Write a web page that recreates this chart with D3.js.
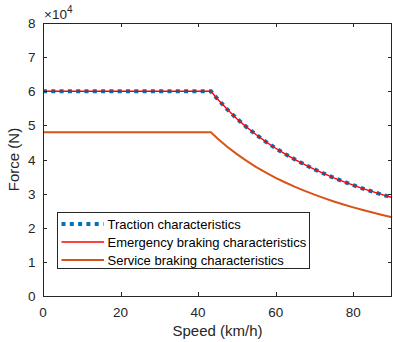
<!DOCTYPE html>
<html>
<head>
<meta charset="utf-8">
<script src="https://cdn.jsdelivr.net/npm/d3@7"></script>
<style>
  html, body { margin: 0; padding: 0; background: #fff; }
  svg { display: block; font-family: "Liberation Sans", Arial, sans-serif; }
</style>
</head>
<body>
<svg id="chart" width="393" height="342"></svg>
<script>
// Speed (km/h) sample points
const speeds = [0, 43.3, 45, 47.5, 50, 52.5, 55, 57.5, 60, 62.5, 65, 67.5, 70, 72.5, 75, 77.5, 80, 82.5, 85, 87.5, 90];
// Traction force (N)
const traction = [60000, 60000, 57733, 54695, 51960, 49486, 47236, 45183, 43300, 41568, 39969, 38489, 37114, 35834, 34640, 33523, 32475, 31491, 30565, 29691, 28867];
// Emergency braking force (N)
const emergency = [60000, 60000, 57733, 54695, 51960, 49486, 47236, 45183, 43300, 41568, 39969, 38489, 37114, 35834, 34640, 33523, 32475, 31491, 30565, 29691, 28867];
// Service braking force (N)
const service = [48000, 48000, 46187, 43756, 41568, 39589, 37789, 36146, 34640, 33254, 31975, 30791, 29691, 28667, 27712, 26818, 25980, 25193, 24452, 23753, 23093];

const xTicks = [0, 20, 40, 60, 80];
const yTicks = [0, 1, 2, 3, 4, 5, 6, 7, 8];
const seriesNames = ["Traction characteristics", "Emergency braking characteristics", "Service braking characteristics"];

const svg = d3.select("#chart");
const m = { left: 43, right: 1, top: 23, bottom: 46 };
const W = 393, H = 342;

const x = d3.scaleLinear().domain([0, 90]).range([m.left, W - m.right]);
const y = d3.scaleLinear().domain([0, 80000]).range([H - m.bottom, m.top]);

const axisColor = "#262626";
const tickLen = 4;
const tickFont = 13.5;
const titleFont = 15;

const g = svg.append("g");
const xL = x(0), xR = x(90), yT = y(80000), yB = y(0);

// ticks (inward, on all four sides) and tick labels
xTicks.forEach(t => {
  const px = Math.round(x(t)) + 0.5;
  g.append("line").attr("x1", px).attr("x2", px).attr("y1", yB).attr("y2", yB - tickLen).attr("stroke", axisColor);
  g.append("line").attr("x1", px).attr("x2", px).attr("y1", yT).attr("y2", yT + tickLen).attr("stroke", axisColor);
  g.append("text").attr("x", x(t)).attr("y", yB + 20.5).attr("text-anchor", "middle")
    .attr("font-size", tickFont).attr("fill", axisColor).text(t);
});
yTicks.forEach(t => {
  const py = Math.round(y(t * 10000)) + 0.5;
  g.append("line").attr("x1", xL).attr("x2", xL + tickLen).attr("y1", py).attr("y2", py).attr("stroke", axisColor);
  g.append("line").attr("x1", xR).attr("x2", xR - tickLen).attr("y1", py).attr("y2", py).attr("stroke", axisColor);
  g.append("text").attr("x", xL - 7.5).attr("y", y(t * 10000) + 5).attr("text-anchor", "end")
    .attr("font-size", tickFont).attr("fill", axisColor).text(t);
});

// exponent label
const ex = g.append("text").attr("x", xL + 1).attr("y", yT - 4).attr("font-size", tickFont).attr("fill", axisColor);
ex.append("tspan").text("\u00d710");
ex.append("tspan").attr("font-size", 10).attr("dy", -6).text("4");

// curves
const line = vals => d3.line().x((d, i) => x(speeds[i])).y(d => y(d))(vals);
const plot = svg.append("g");
plot.append("path").attr("d", line(traction)).attr("fill", "none")
  .attr("stroke", "#0072BD").attr("stroke-width", 4).attr("stroke-dasharray", "4,4.3");
plot.append("path").attr("d", line(emergency)).attr("fill", "none")
  .attr("stroke", "#FF0000").attr("stroke-width", 1.4);
plot.append("path").attr("d", line(service)).attr("fill", "none")
  .attr("stroke", "#D95319").attr("stroke-width", 2);

// box lines drawn over curves
g.append("rect").attr("x", xL + 0.5).attr("y", yT + 0.5).attr("width", xR - xL - 1).attr("height", yB - yT)
  .attr("fill", "none").attr("stroke", axisColor).attr("stroke-width", 1);
svg.node().appendChild(g.node());

// axis titles
svg.append("text").attr("x", (xL + xR) / 2).attr("y", yB + 40).attr("text-anchor", "middle")
  .attr("font-size", titleFont).attr("fill", axisColor).text("Speed (km/h)");
svg.append("text").attr("transform", `translate(19,${(yT + yB) / 2}) rotate(-90)`).attr("text-anchor", "middle")
  .attr("font-size", titleFont).attr("fill", axisColor).text("Force (N)");

// legend
const lg = svg.append("g").attr("transform", "translate(57.5,212.5)");
lg.append("rect").attr("width", 252).attr("height", 56).attr("fill", "#fff").attr("stroke", axisColor).attr("stroke-width", 1);
const styles = [
  { c: "#0072BD", w: 4, d: "4,4.3", x2: 46 },
  { c: "#FF0000", w: 1.4, d: null, x2: 46.5 },
  { c: "#D95319", w: 2, d: null, x2: 46.5 }
];
seriesNames.forEach((n, i) => {
  const yy = 11.5 + i * 18;
  const s = styles[i];
  const l = lg.append("line").attr("x1", 4).attr("x2", s.x2).attr("y1", yy).attr("y2", yy)
    .attr("stroke", s.c).attr("stroke-width", s.w);
  if (s.d) l.attr("stroke-dasharray", s.d);
  lg.append("text").attr("x", 50).attr("y", yy + 4.5).attr("font-size", 13).attr("fill", "#000").text(n);
});
</script>
</body>
</html>
